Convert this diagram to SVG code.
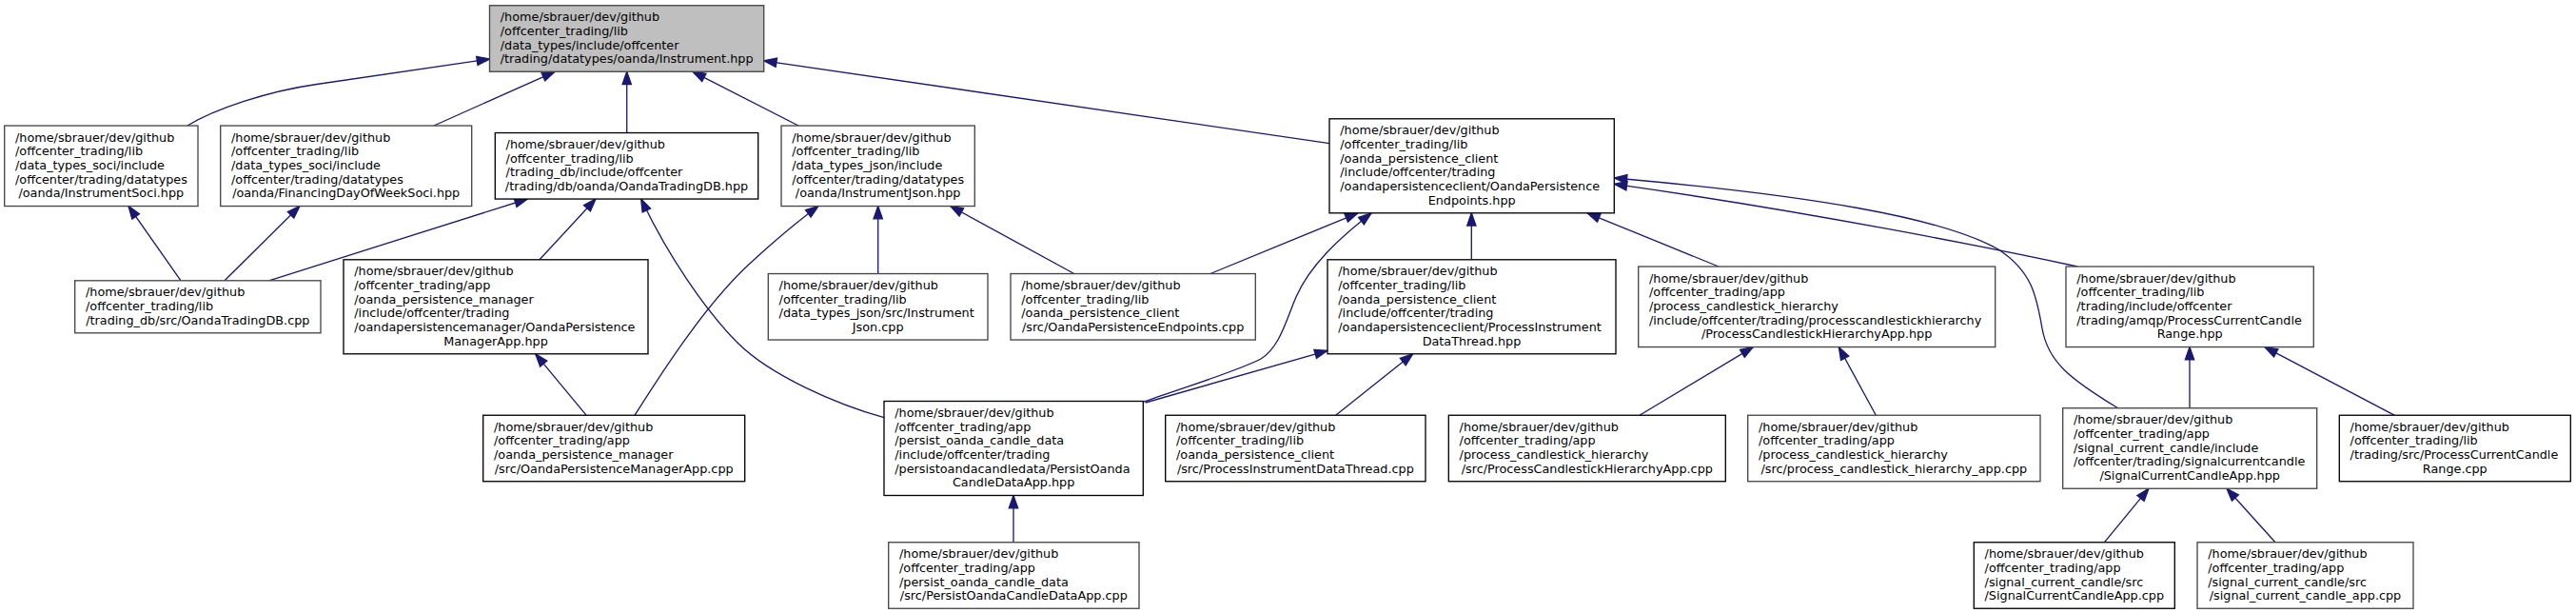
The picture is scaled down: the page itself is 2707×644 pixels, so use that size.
<svg xmlns="http://www.w3.org/2000/svg" width="2707" height="644" viewBox="0 0 2707 644">
<style>
rect.b{fill:#fff;stroke:#000;stroke-width:1.33}
rect.g{fill:#fff;stroke:#454545;stroke-width:1.33}
rect.r{fill:#bfbfbf;stroke:#454545;stroke-width:1.33}
text{font-family:"DejaVu Sans",sans-serif;font-size:12.8px;fill:#000}
text.c{text-anchor:middle}
#edges path{fill:none;stroke:#191970;stroke-width:1.33;marker-end:url(#arr)}
</style>
<defs>
<marker id="arr" markerUnits="userSpaceOnUse" markerWidth="16" markerHeight="12" viewBox="0 -6 16 12" refX="13.3" refY="0" orient="auto" overflow="visible">
<path d="M0,-4.67 L13.3,0 L0,4.67 Z" fill="#191970" stroke="#191970" stroke-width="1.33"/>
</marker>
</defs>
<rect width="2707" height="644" fill="#fff"/>
<g id="edges">
<path d="M197,132 C225,115 280,96 333,88.5 L514.5,62"/>
<path d="M456,132 L583,75.3"/>
<path d="M658.7,139.5 L658.7,75.3"/>
<path d="M839,132 L728,75.3"/>
<path d="M1397,150.6 L802.7,63.8"/>
<path d="M282.7,294.8 L554.3,209"/>
<path d="M567,272.8 L626,209"/>
<path d="M929,438.7 C880,425 810,395 775,360 C740,325 700,265 673.7,209"/>
<path d="M667,436.2 C690,400 740,320 790,275 C815,252 835,235 860,216.5"/>
<path d="M922.7,287.5 L922.7,216.5"/>
<path d="M1128.7,287.5 L998.7,216.5"/>
<path d="M1272,287.5 L1427,223.8"/>
<path d="M1202,422 C1250,405 1300,390 1325,377 C1345,365 1352,335 1362,312 C1376,280 1405,252 1441,224"/>
<path d="M1203.7,423 L1395,368.3"/>
<path d="M1546.3,272.8 L1546.3,223.8"/>
<path d="M1806,280 L1668,223.8"/>
<path d="M2225.7,428.8 C2175,398 2152,380 2146,345 C2140,310 2135,285 2100,262 C2040,228 1900,205 1696.3,187"/>
<path d="M2183,280 C2100,262 1900,222 1696.3,193.4"/>
<path d="M616,436.2 L562.7,371.8"/>
<path d="M1403.7,436.2 L1484.7,371.8"/>
<path d="M1723,436.2 L1842.3,364.6"/>
<path d="M1971.3,436.2 L1932.3,364.6"/>
<path d="M2301,428.8 L2301,364.6"/>
<path d="M2516,436.2 L2380,364.6"/>
<path d="M1065,569.8 L1065,520.5"/>
<path d="M2211.3,569.8 L2258,513.2"/>
<path d="M2391,569.8 L2340,513.2"/>
<path d="M190,294.8 L135,216.5"/>
<path d="M236,294.8 L315,216.5"/>
</g>
<g id="n0"><rect class="r" x="514.5" y="5.75" width="288.2" height="69.5"/>
<text x="525.8" y="22.3">/home/sbrauer/dev/github</text><text x="525.8" y="36.97">/offcenter_trading/lib</text><text x="525.8" y="51.63">/data_types/include/offcenter</text><text class="c" x="658.6" y="66.3">/trading/datatypes/oanda/Instrument.hpp</text></g>
<g id="n1"><rect class="g" x="4.7" y="132.05" width="203.3" height="84.5"/>
<text x="16" y="148.76">/home/sbrauer/dev/github</text><text x="16" y="163.43">/offcenter_trading/lib</text><text x="16" y="178.1">/data_types_soci/include</text><text x="16" y="192.77">/offcenter/trading/datatypes</text><text class="c" x="106.35" y="207.44">/oanda/InstrumentSoci.hpp</text></g>
<g id="n2"><rect class="g" x="231.7" y="132.05" width="264" height="84.5"/>
<text x="243" y="148.76">/home/sbrauer/dev/github</text><text x="243" y="163.43">/offcenter_trading/lib</text><text x="243" y="178.1">/data_types_soci/include</text><text x="243" y="192.77">/offcenter/trading/datatypes</text><text class="c" x="363.7" y="207.44">/oanda/FinancingDayOfWeekSoci.hpp</text></g>
<g id="n3"><rect class="b" x="520.3" y="139.55" width="276.4" height="69.5"/>
<text x="531.6" y="156.1">/home/sbrauer/dev/github</text><text x="531.6" y="170.77">/offcenter_trading/lib</text><text x="531.6" y="185.43">/trading_db/include/offcenter</text><text class="c" x="658.5" y="200.1">/trading/db/oanda/OandaTradingDB.hpp</text></g>
<g id="n4"><rect class="g" x="821" y="132.05" width="203.3" height="84.5"/>
<text x="832.3" y="148.76">/home/sbrauer/dev/github</text><text x="832.3" y="163.43">/offcenter_trading/lib</text><text x="832.3" y="178.1">/data_types_json/include</text><text x="832.3" y="192.77">/offcenter/trading/datatypes</text><text class="c" x="922.65" y="207.44">/oanda/InstrumentJson.hpp</text></g>
<g id="n5"><rect class="b" x="1397" y="124.8" width="299.3" height="99"/>
<text x="1408.3" y="141.43">/home/sbrauer/dev/github</text><text x="1408.3" y="156.1">/offcenter_trading/lib</text><text x="1408.3" y="170.77">/oanda_persistence_client</text><text x="1408.3" y="185.43">/include/offcenter/trading</text><text x="1408.3" y="200.1">/oandapersistenceclient/OandaPersistence</text><text class="c" x="1546.65" y="214.77">Endpoints.hpp</text></g>
<g id="n6"><rect class="g" x="78.7" y="294.8" width="258.3" height="55"/>
<text x="90" y="311.43">/home/sbrauer/dev/github</text><text x="90" y="326.1">/offcenter_trading/lib</text><text class="c" x="207.85" y="340.77">/trading_db/src/OandaTradingDB.cpp</text></g>
<g id="n7"><rect class="b" x="361" y="272.8" width="320" height="99"/>
<text x="372.3" y="289.43">/home/sbrauer/dev/github</text><text x="372.3" y="304.1">/offcenter_trading/app</text><text x="372.3" y="318.77">/oanda_persistence_manager</text><text x="372.3" y="333.43">/include/offcenter/trading</text><text x="372.3" y="348.1">/oandapersistencemanager/OandaPersistence</text><text class="c" x="521" y="362.77">ManagerApp.hpp</text></g>
<g id="n8"><rect class="g" x="807.3" y="287.55" width="230.7" height="69.5"/>
<text x="818.6" y="304.1">/home/sbrauer/dev/github</text><text x="818.6" y="318.77">/offcenter_trading/lib</text><text x="818.6" y="333.43">/data_types_json/src/Instrument</text><text class="c" x="922.65" y="348.1">Json.cpp</text></g>
<g id="n9"><rect class="g" x="1062" y="287.55" width="257.3" height="69.5"/>
<text x="1073.3" y="304.1">/home/sbrauer/dev/github</text><text x="1073.3" y="318.77">/offcenter_trading/lib</text><text x="1073.3" y="333.43">/oanda_persistence_client</text><text class="c" x="1190.65" y="348.1">/src/OandaPersistenceEndpoints.cpp</text></g>
<g id="n10"><rect class="b" x="1395" y="272.8" width="303" height="99"/>
<text x="1406.3" y="289.43">/home/sbrauer/dev/github</text><text x="1406.3" y="304.1">/offcenter_trading/lib</text><text x="1406.3" y="318.77">/oanda_persistence_client</text><text x="1406.3" y="333.43">/include/offcenter/trading</text><text x="1406.3" y="348.1">/oandapersistenceclient/ProcessInstrument</text><text class="c" x="1546.5" y="362.77">DataThread.hpp</text></g>
<g id="n11"><rect class="g" x="1721.7" y="280.05" width="375" height="84.5"/>
<text x="1733" y="296.76">/home/sbrauer/dev/github</text><text x="1733" y="311.43">/offcenter_trading/app</text><text x="1733" y="326.1">/process_candlestick_hierarchy</text><text x="1733" y="340.77">/include/offcenter/trading/processcandlestickhierarchy</text><text class="c" x="1909.2" y="355.44">/ProcessCandlestickHierarchyApp.hpp</text></g>
<g id="n12"><rect class="g" x="2171" y="280.05" width="260.3" height="84.5"/>
<text x="2182.3" y="296.76">/home/sbrauer/dev/github</text><text x="2182.3" y="311.43">/offcenter_trading/lib</text><text x="2182.3" y="326.1">/trading/include/offcenter</text><text x="2182.3" y="340.77">/trading/amqp/ProcessCurrentCandle</text><text class="c" x="2301.15" y="355.44">Range.hpp</text></g>
<g id="n13"><rect class="b" x="507.7" y="436.25" width="275" height="69.5"/>
<text x="519" y="452.8">/home/sbrauer/dev/github</text><text x="519" y="467.47">/offcenter_trading/app</text><text x="519" y="482.13">/oanda_persistence_manager</text><text class="c" x="645.2" y="496.8">/src/OandaPersistenceManagerApp.cpp</text></g>
<g id="n14"><rect class="b" x="929" y="421.5" width="272.3" height="99"/>
<text x="940.3" y="438.13">/home/sbrauer/dev/github</text><text x="940.3" y="452.8">/offcenter_trading/app</text><text x="940.3" y="467.47">/persist_oanda_candle_data</text><text x="940.3" y="482.13">/include/offcenter/trading</text><text x="940.3" y="496.8">/persistoandacandledata/PersistOanda</text><text class="c" x="1065.15" y="511.47">CandleDataApp.hpp</text></g>
<g id="n15"><rect class="b" x="1224.7" y="436.25" width="273.3" height="69.5"/>
<text x="1236" y="452.8">/home/sbrauer/dev/github</text><text x="1236" y="467.47">/offcenter_trading/lib</text><text x="1236" y="482.13">/oanda_persistence_client</text><text class="c" x="1361.35" y="496.8">/src/ProcessInstrumentDataThread.cpp</text></g>
<g id="n16"><rect class="b" x="1522.3" y="436.25" width="291" height="69.5"/>
<text x="1533.6" y="452.8">/home/sbrauer/dev/github</text><text x="1533.6" y="467.47">/offcenter_trading/app</text><text x="1533.6" y="482.13">/process_candlestick_hierarchy</text><text class="c" x="1667.8" y="496.8">/src/ProcessCandlestickHierarchyApp.cpp</text></g>
<g id="n17"><rect class="g" x="1836.7" y="436.25" width="307.3" height="69.5"/>
<text x="1848" y="452.8">/home/sbrauer/dev/github</text><text x="1848" y="467.47">/offcenter_trading/app</text><text x="1848" y="482.13">/process_candlestick_hierarchy</text><text class="c" x="1990.35" y="496.8">/src/process_candlestick_hierarchy_app.cpp</text></g>
<g id="n18"><rect class="g" x="2167.7" y="428.75" width="267" height="84.5"/>
<text x="2179" y="445.46">/home/sbrauer/dev/github</text><text x="2179" y="460.13">/offcenter_trading/app</text><text x="2179" y="474.8">/signal_current_candle/include</text><text x="2179" y="489.47">/offcenter/trading/signalcurrentcandle</text><text class="c" x="2301.2" y="504.14">/SignalCurrentCandleApp.hpp</text></g>
<g id="n19"><rect class="b" x="2458.3" y="436.25" width="243" height="69.5"/>
<text x="2469.6" y="452.8">/home/sbrauer/dev/github</text><text x="2469.6" y="467.47">/offcenter_trading/lib</text><text x="2469.6" y="482.13">/trading/src/ProcessCurrentCandle</text><text class="c" x="2579.8" y="496.8">Range.cpp</text></g>
<g id="n20"><rect class="g" x="933.7" y="569.75" width="263.3" height="69.5"/>
<text x="945" y="586.3">/home/sbrauer/dev/github</text><text x="945" y="600.97">/offcenter_trading/app</text><text x="945" y="615.63">/persist_oanda_candle_data</text><text class="c" x="1065.35" y="630.3">/src/PersistOandaCandleDataApp.cpp</text></g>
<g id="n21"><rect class="b" x="2074.3" y="569.75" width="211" height="69.5"/>
<text x="2085.6" y="586.3">/home/sbrauer/dev/github</text><text x="2085.6" y="600.97">/offcenter_trading/app</text><text x="2085.6" y="615.63">/signal_current_candle/src</text><text class="c" x="2179.8" y="630.3">/SignalCurrentCandleApp.cpp</text></g>
<g id="n22"><rect class="g" x="2309" y="569.75" width="227" height="69.5"/>
<text x="2320.3" y="586.3">/home/sbrauer/dev/github</text><text x="2320.3" y="600.97">/offcenter_trading/app</text><text x="2320.3" y="615.63">/signal_current_candle/src</text><text class="c" x="2422.5" y="630.3">/signal_current_candle_app.cpp</text></g>
</svg>
